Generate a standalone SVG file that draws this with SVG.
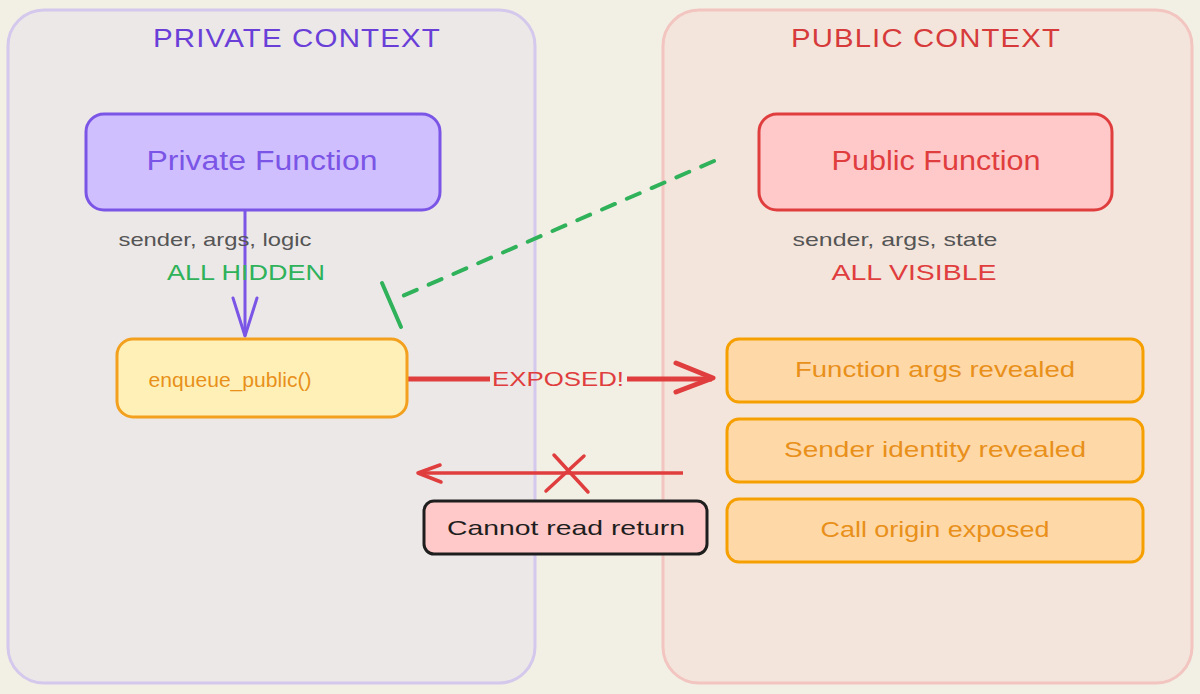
<svg xmlns="http://www.w3.org/2000/svg" width="1200" height="694" viewBox="0 0 1200 694">
<defs>
<style>
text{font-family:"Liberation Sans","DejaVu Sans",sans-serif;text-anchor:middle}
.title{font-size:26px;letter-spacing:1px}
.big{font-size:27px}
.mid{font-size:21px}
.note{font-size:19px;fill:#555555}
.orange{fill:#ffd8a8;stroke:#f59f00;stroke-width:3}
.otext{fill:#e8901a;font-size:22px}
</style>
</defs>
<rect width="1200" height="694" fill="#f2efe4"/>

<g id="private-context">
<rect x="8" y="10" width="527" height="673" rx="36" fill="#ece8e8" stroke="#d4c8ec" stroke-width="3"/>
<text class="title" x="297" y="47" fill="#6a3fd8" textLength="288" lengthAdjust="spacingAndGlyphs">PRIVATE CONTEXT</text>
</g>

<g id="public-context">
<rect x="663" y="10" width="529" height="673" rx="36" fill="#f4e5dc" stroke="#f2c5c0" stroke-width="3"/>
<text class="title" x="926" y="47" fill="#d63a3a" textLength="270" lengthAdjust="spacingAndGlyphs">PUBLIC CONTEXT</text>
</g>

<g id="connectors">
<line x1="245" y1="211" x2="245" y2="336" stroke="#7b55e6" stroke-width="3"/>
<path d="M233 298 L245 336 L257 298" fill="none" stroke="#7b55e6" stroke-width="3" stroke-linecap="round" stroke-linejoin="round"/>
<line x1="714" y1="161" x2="398" y2="298" stroke="#2fb25a" stroke-width="4" stroke-dasharray="14 13" stroke-linecap="round"/>
<line x1="382" y1="283" x2="401" y2="327" stroke="#2fb25a" stroke-width="4" stroke-linecap="round"/>
<line x1="408" y1="379" x2="490" y2="379" stroke="#e03e3e" stroke-width="5"/>
<line x1="627" y1="379" x2="712" y2="379" stroke="#e03e3e" stroke-width="5"/>
<path d="M676 363 L713 378 L676 392" fill="none" stroke="#e03e3e" stroke-width="5" stroke-linecap="round" stroke-linejoin="round"/>
<text x="558" y="386" fill="#e03e3e" font-size="21" textLength="132" lengthAdjust="spacingAndGlyphs">EXPOSED!</text>
<line x1="683" y1="473" x2="419" y2="473" stroke="#e03e3e" stroke-width="3.5"/>
<path d="M440 465 L418 473 L441 482" fill="none" stroke="#e03e3e" stroke-width="3.5" stroke-linecap="round" stroke-linejoin="round"/>
<line x1="554" y1="455" x2="588" y2="492" stroke="#e03e3e" stroke-width="3.5" stroke-linecap="round"/>
<line x1="584" y1="456" x2="546" y2="491" stroke="#e03e3e" stroke-width="3.5" stroke-linecap="round"/>
</g>

<g id="private-function">
<rect x="86" y="114" width="354" height="96" rx="18" fill="#d0bfff" stroke="#7b55e6" stroke-width="3"/>
<text class="big" x="262" y="170" fill="#7b55e6" textLength="231" lengthAdjust="spacingAndGlyphs">Private Function</text>
</g>

<g id="private-notes">
<text class="note" x="215" y="246" textLength="193" lengthAdjust="spacingAndGlyphs">sender, args, logic</text>
<text x="246" y="280" fill="#2fb25a" font-size="22" textLength="158" lengthAdjust="spacingAndGlyphs">ALL HIDDEN</text>
</g>

<g id="public-function">
<rect x="759" y="114" width="353" height="96" rx="18" fill="#ffc9c9" stroke="#e03e3e" stroke-width="3"/>
<text class="big" x="936" y="170" fill="#e03e3e" textLength="209" lengthAdjust="spacingAndGlyphs">Public Function</text>
</g>

<g id="public-notes">
<text class="note" x="895" y="246" textLength="205" lengthAdjust="spacingAndGlyphs">sender, args, state</text>
<text x="914" y="280" fill="#e03e3e" font-size="22" textLength="165" lengthAdjust="spacingAndGlyphs">ALL VISIBLE</text>
</g>

<g id="enqueue-public">
<rect x="117" y="339" width="290" height="78" rx="16" fill="#fff0b8" stroke="#f2a01e" stroke-width="3"/>
<text class="mid" x="230" y="387" fill="#e8901a" textLength="163" lengthAdjust="spacingAndGlyphs">enqueue_public()</text>
</g>

<g id="function-args-revealed">
<rect class="orange" x="727" y="339" width="416" height="63" rx="12"/>
<text class="otext" x="935" y="377" textLength="280" lengthAdjust="spacingAndGlyphs">Function args revealed</text>
</g>

<g id="sender-identity-revealed">
<rect class="orange" x="727" y="419" width="416" height="63" rx="12"/>
<text class="otext" x="935" y="457" textLength="302" lengthAdjust="spacingAndGlyphs">Sender identity revealed</text>
</g>

<g id="call-origin-exposed">
<rect class="orange" x="727" y="499" width="416" height="63" rx="12"/>
<text class="otext" x="935" y="537" textLength="229" lengthAdjust="spacingAndGlyphs">Call origin exposed</text>
</g>

<g id="cannot-read-return">
<rect x="424" y="501" width="283" height="53" rx="10" fill="#ffc9c9" stroke="#1e1e1e" stroke-width="3"/>
<text x="566" y="535" fill="#1e1e1e" font-size="21" textLength="238" lengthAdjust="spacingAndGlyphs">Cannot read return</text>
</g>
</svg>
